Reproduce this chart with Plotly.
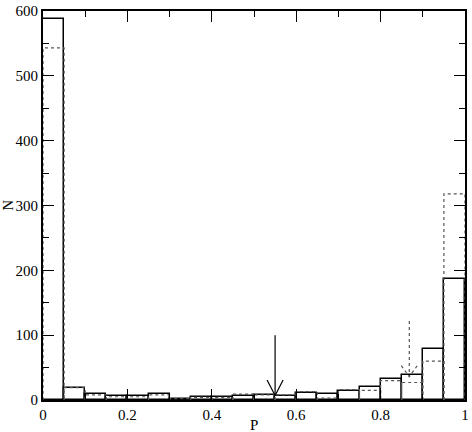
import numpy as np
import plotly.graph_objects as go

# bin left edges, width 0.05
bin_edges = np.round(np.arange(0, 1.0001, 0.05), 2)
bin_width = 0.05

# solid histogram counts
n_solid = [588, 19, 9, 6, 6, 9, 2, 5, 4, 6, 7, 6, 11, 10, 14, 20, 33, 39, 79, 187]
# dotted histogram counts
n_dotted = [543, 19, 8, 5, 5, 8, 2, 4, 4, 9, 8, 8, 13, 3, 16, 15, 30, 27, 60, 318]

# arrows: x position, top, tip
arrow_solid = dict(x=0.55, top=100, tip=7, wing_dx=0.019, wing_dy=24)
arrow_dotted = dict(x=0.868, top=122, tip=36, wing_dx=0.019, wing_dy=17)

centers = bin_edges[:-1] + bin_width / 2

fig = go.Figure()

# dotted histogram as rectangle outlines
dx, dy = [], []
for left, h in zip(bin_edges[:-1], n_dotted):
    dx += [left, left, left + bin_width, left + bin_width, None]
    dy += [0, h, h, 0, None]
fig.add_trace(go.Scatter(x=dx, y=dy, mode="lines",
                         line=dict(color="#555555", width=1.2, dash="dot"),
                         hoverinfo="skip", showlegend=False))

# solid histogram
fig.add_trace(go.Bar(x=centers, y=n_solid, width=bin_width,
                     marker=dict(color="rgba(0,0,0,0)",
                                 line=dict(color="black", width=1.5)),
                     showlegend=False))


def arrow(a, color, dash):
    xs = [a["x"], a["x"], None,
          a["x"] - a["wing_dx"], a["x"], a["x"] + a["wing_dx"]]
    ys = [a["top"], a["tip"], None,
          a["tip"] + a["wing_dy"], a["tip"], a["tip"] + a["wing_dy"]]
    return go.Scatter(x=xs, y=ys, mode="lines",
                      line=dict(color=color, width=1.2, dash=dash),
                      hoverinfo="skip", showlegend=False)


fig.add_trace(arrow(arrow_solid, "black", "solid"))
fig.add_trace(arrow(arrow_dotted, "#555555", "dot"))

axis_font = dict(family="Liberation Serif", size=15, color="black")
common = dict(showline=True, linecolor="black", linewidth=2, mirror="allticks",
              ticks="inside", ticklen=11, tickwidth=1.2, tickcolor="black",
              showgrid=False, zeroline=False, tickfont=axis_font,
              ticklabeloverflow="allow")

fig.update_layout(
    width=472, height=432,
    margin=dict(l=43, r=3, t=6, b=32),
    paper_bgcolor="white", plot_bgcolor="white",
    bargap=0,
    xaxis=dict(range=[0, 1], dtick=0.2, tick0=0,
               minor=dict(ticks="inside", ticklen=6, dtick=0.1, tickcolor="black"),
               **common),
    yaxis=dict(range=[0, 600], dtick=100, tick0=0,
               minor=dict(ticks="inside", ticklen=6, dtick=50, tickcolor="black"),
               **common),
    annotations=[
        dict(text="P", x=0.5, y=-0.063, xref="paper", yref="paper",
             xanchor="center", yanchor="middle", showarrow=False, font=axis_font),
        dict(text="N", x=-0.085, y=0.5, xref="paper", yref="paper",
             xanchor="center", yanchor="middle", showarrow=False,
             textangle=-90, font=axis_font),
    ],
)

# drop the default page margin so the figure sits at the window's corner
fig.write_html("out.html", config={"displayModeBar": False},
               post_script="document.body.style.margin='0';")
